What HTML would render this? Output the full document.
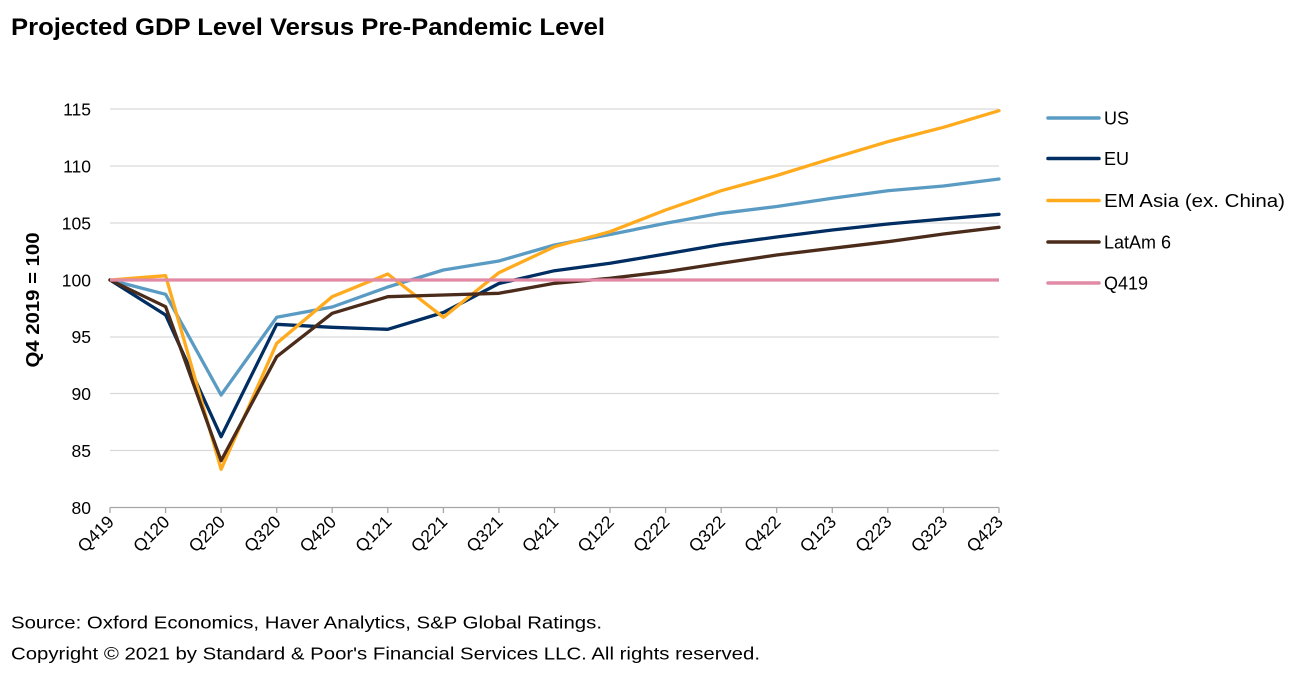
<!DOCTYPE html>
<html>
<head>
<meta charset="utf-8">
<style>
  html, body { margin:0; padding:0; background:#ffffff; }
  body { width:1301px; height:673px; overflow:hidden; }
  svg { display:block; }
  text { font-family: "Liberation Sans", Arial, sans-serif; fill:#000; }
</style>
</head>
<body>
<svg width="1301" height="673" viewBox="0 0 1301 673" xmlns="http://www.w3.org/2000/svg">
  <rect width="1301" height="673" fill="#ffffff"/>

  <!-- Title -->
  <text x="11" y="35" font-size="24" font-weight="bold" textLength="594" lengthAdjust="spacingAndGlyphs">Projected GDP Level Versus Pre-Pandemic Level</text>

  <!-- Gridlines -->
  <g stroke="#D9D9D9" stroke-width="1.3">
    <line x1="110" y1="109" x2="999" y2="109"/>
    <line x1="110" y1="166" x2="999" y2="166"/>
    <line x1="110" y1="223" x2="999" y2="223"/>
    <line x1="110" y1="280" x2="999" y2="280"/>
    <line x1="110" y1="337" x2="999" y2="337"/>
    <line x1="110" y1="393.5" x2="999" y2="393.5"/>
    <line x1="110" y1="450.5" x2="999" y2="450.5"/>
  </g>

  <!-- X axis -->
  <g stroke="#A6A6A6" stroke-width="1.3">
    <line x1="110" y1="507.5" x2="999" y2="507.5"/>
    <line x1="110" y1="507.5" x2="110" y2="513"/>
    <line x1="165.6" y1="507.5" x2="165.6" y2="513"/>
    <line x1="221.1" y1="507.5" x2="221.1" y2="513"/>
    <line x1="276.7" y1="507.5" x2="276.7" y2="513"/>
    <line x1="332.2" y1="507.5" x2="332.2" y2="513"/>
    <line x1="387.8" y1="507.5" x2="387.8" y2="513"/>
    <line x1="443.4" y1="507.5" x2="443.4" y2="513"/>
    <line x1="498.9" y1="507.5" x2="498.9" y2="513"/>
    <line x1="554.5" y1="507.5" x2="554.5" y2="513"/>
    <line x1="610" y1="507.5" x2="610" y2="513"/>
    <line x1="665.6" y1="507.5" x2="665.6" y2="513"/>
    <line x1="721.2" y1="507.5" x2="721.2" y2="513"/>
    <line x1="776.7" y1="507.5" x2="776.7" y2="513"/>
    <line x1="832.3" y1="507.5" x2="832.3" y2="513"/>
    <line x1="887.8" y1="507.5" x2="887.8" y2="513"/>
    <line x1="943.4" y1="507.5" x2="943.4" y2="513"/>
    <line x1="999" y1="507.5" x2="999" y2="513"/>
  </g>

  <!-- Y tick labels -->
  <g font-size="17.5" text-anchor="end">
    <text x="91" y="115.5">115</text>
    <text x="91" y="172.5">110</text>
    <text x="91" y="229.5">105</text>
    <text x="91" y="286.5">100</text>
    <text x="91" y="343">95</text>
    <text x="91" y="400">90</text>
    <text x="91" y="457">85</text>
    <text x="91" y="514">80</text>
  </g>

  <!-- Y axis title -->
  <text transform="translate(39,300) rotate(-90)" font-size="18" font-weight="bold" text-anchor="middle" textLength="135" lengthAdjust="spacingAndGlyphs">Q4 2019 = 100</text>

  <!-- X tick labels -->
  <g font-size="17.5" text-anchor="end">
    <text transform="translate(115,523) rotate(-45)">Q419</text>
    <text transform="translate(170.6,523) rotate(-45)">Q120</text>
    <text transform="translate(226.1,523) rotate(-45)">Q220</text>
    <text transform="translate(281.7,523) rotate(-45)">Q320</text>
    <text transform="translate(337.2,523) rotate(-45)">Q420</text>
    <text transform="translate(392.8,523) rotate(-45)">Q121</text>
    <text transform="translate(448.4,523) rotate(-45)">Q221</text>
    <text transform="translate(503.9,523) rotate(-45)">Q321</text>
    <text transform="translate(559.5,523) rotate(-45)">Q421</text>
    <text transform="translate(615,523) rotate(-45)">Q122</text>
    <text transform="translate(670.6,523) rotate(-45)">Q222</text>
    <text transform="translate(726.2,523) rotate(-45)">Q322</text>
    <text transform="translate(781.7,523) rotate(-45)">Q422</text>
    <text transform="translate(837.3,523) rotate(-45)">Q123</text>
    <text transform="translate(892.8,523) rotate(-45)">Q223</text>
    <text transform="translate(948.4,523) rotate(-45)">Q323</text>
    <text transform="translate(1004,523) rotate(-45)">Q423</text>
  </g>

  <!-- Series -->
  <g fill="none" stroke-width="3.3" stroke-linejoin="round" stroke-linecap="round">
    <!-- US -->
    <polyline stroke="#5A9BC4" points="110,280 165.6,294.3 221.1,395 276.7,317.3 332.2,307 387.8,287 443.4,270 498.9,261 554.5,245 610,234.5 665.6,223.3 721.2,213.3 776.7,206.5 832.3,198.3 887.8,190.7 943.4,186 999,179"/>
    <!-- EU -->
    <polyline stroke="#002D62" points="110,280 165.6,315 221.1,436.7 276.7,324.3 332.2,327.3 387.8,329.3 443.4,312.5 498.9,283.5 554.5,270.7 610,263.3 665.6,254 721.2,244.5 776.7,237 832.3,230 887.8,224 943.4,219 999,214.3"/>
    <!-- EM Asia -->
    <polyline stroke="#FFAB1D" points="110,280 165.6,275.7 221.1,469.3 276.7,343.3 332.2,296.7 387.8,274 443.4,317.3 498.9,272.7 554.5,246.7 610,231.7 665.6,210 721.2,190.7 776.7,175.5 832.3,158.3 887.8,141.7 943.4,127.3 999,110.7"/>
    <!-- LatAm 6 -->
    <polyline stroke="#4B2B1A" points="110,280 165.6,306.7 221.1,460.7 276.7,356.7 332.2,313.3 387.8,296.7 443.4,295 498.9,293.3 554.5,283.3 610,278.3 665.6,271.7 721.2,263.3 776.7,255 832.3,248.3 887.8,241.7 943.4,234 999,227.3"/>
    <!-- Q419 -->
    <polyline stroke="#E28AA5" stroke-linecap="butt" points="110,280 999,280"/>
  </g>

  <!-- Legend -->
  <g stroke-width="3.5" stroke-linecap="round">
    <line x1="1048" y1="118" x2="1099" y2="118" stroke="#5A9BC4"/>
    <line x1="1048" y1="158.5" x2="1099" y2="158.5" stroke="#002D62"/>
    <line x1="1048" y1="200.5" x2="1099" y2="200.5" stroke="#FFAB1D"/>
    <line x1="1048" y1="242" x2="1099" y2="242" stroke="#4B2B1A"/>
    <line x1="1048" y1="283" x2="1099" y2="283" stroke="#E28AA5"/>
  </g>
  <g font-size="18">
    <text x="1104" y="124.5">US</text>
    <text x="1104" y="165">EU</text>
    <text x="1104" y="207" textLength="181" lengthAdjust="spacingAndGlyphs">EM Asia (ex. China)</text>
    <text x="1104" y="248.5">LatAm 6</text>
    <text x="1104" y="289.5">Q419</text>
  </g>

  <!-- Footer -->
  <text x="11" y="628.5" font-size="17.5" textLength="591" lengthAdjust="spacingAndGlyphs">Source: Oxford Economics, Haver Analytics, S&amp;P Global Ratings.</text>
  <text x="11" y="659.5" font-size="17.5" textLength="749" lengthAdjust="spacingAndGlyphs">Copyright © 2021 by Standard &amp; Poor's Financial Services LLC. All rights reserved.</text>
</svg>
</body>
</html>
